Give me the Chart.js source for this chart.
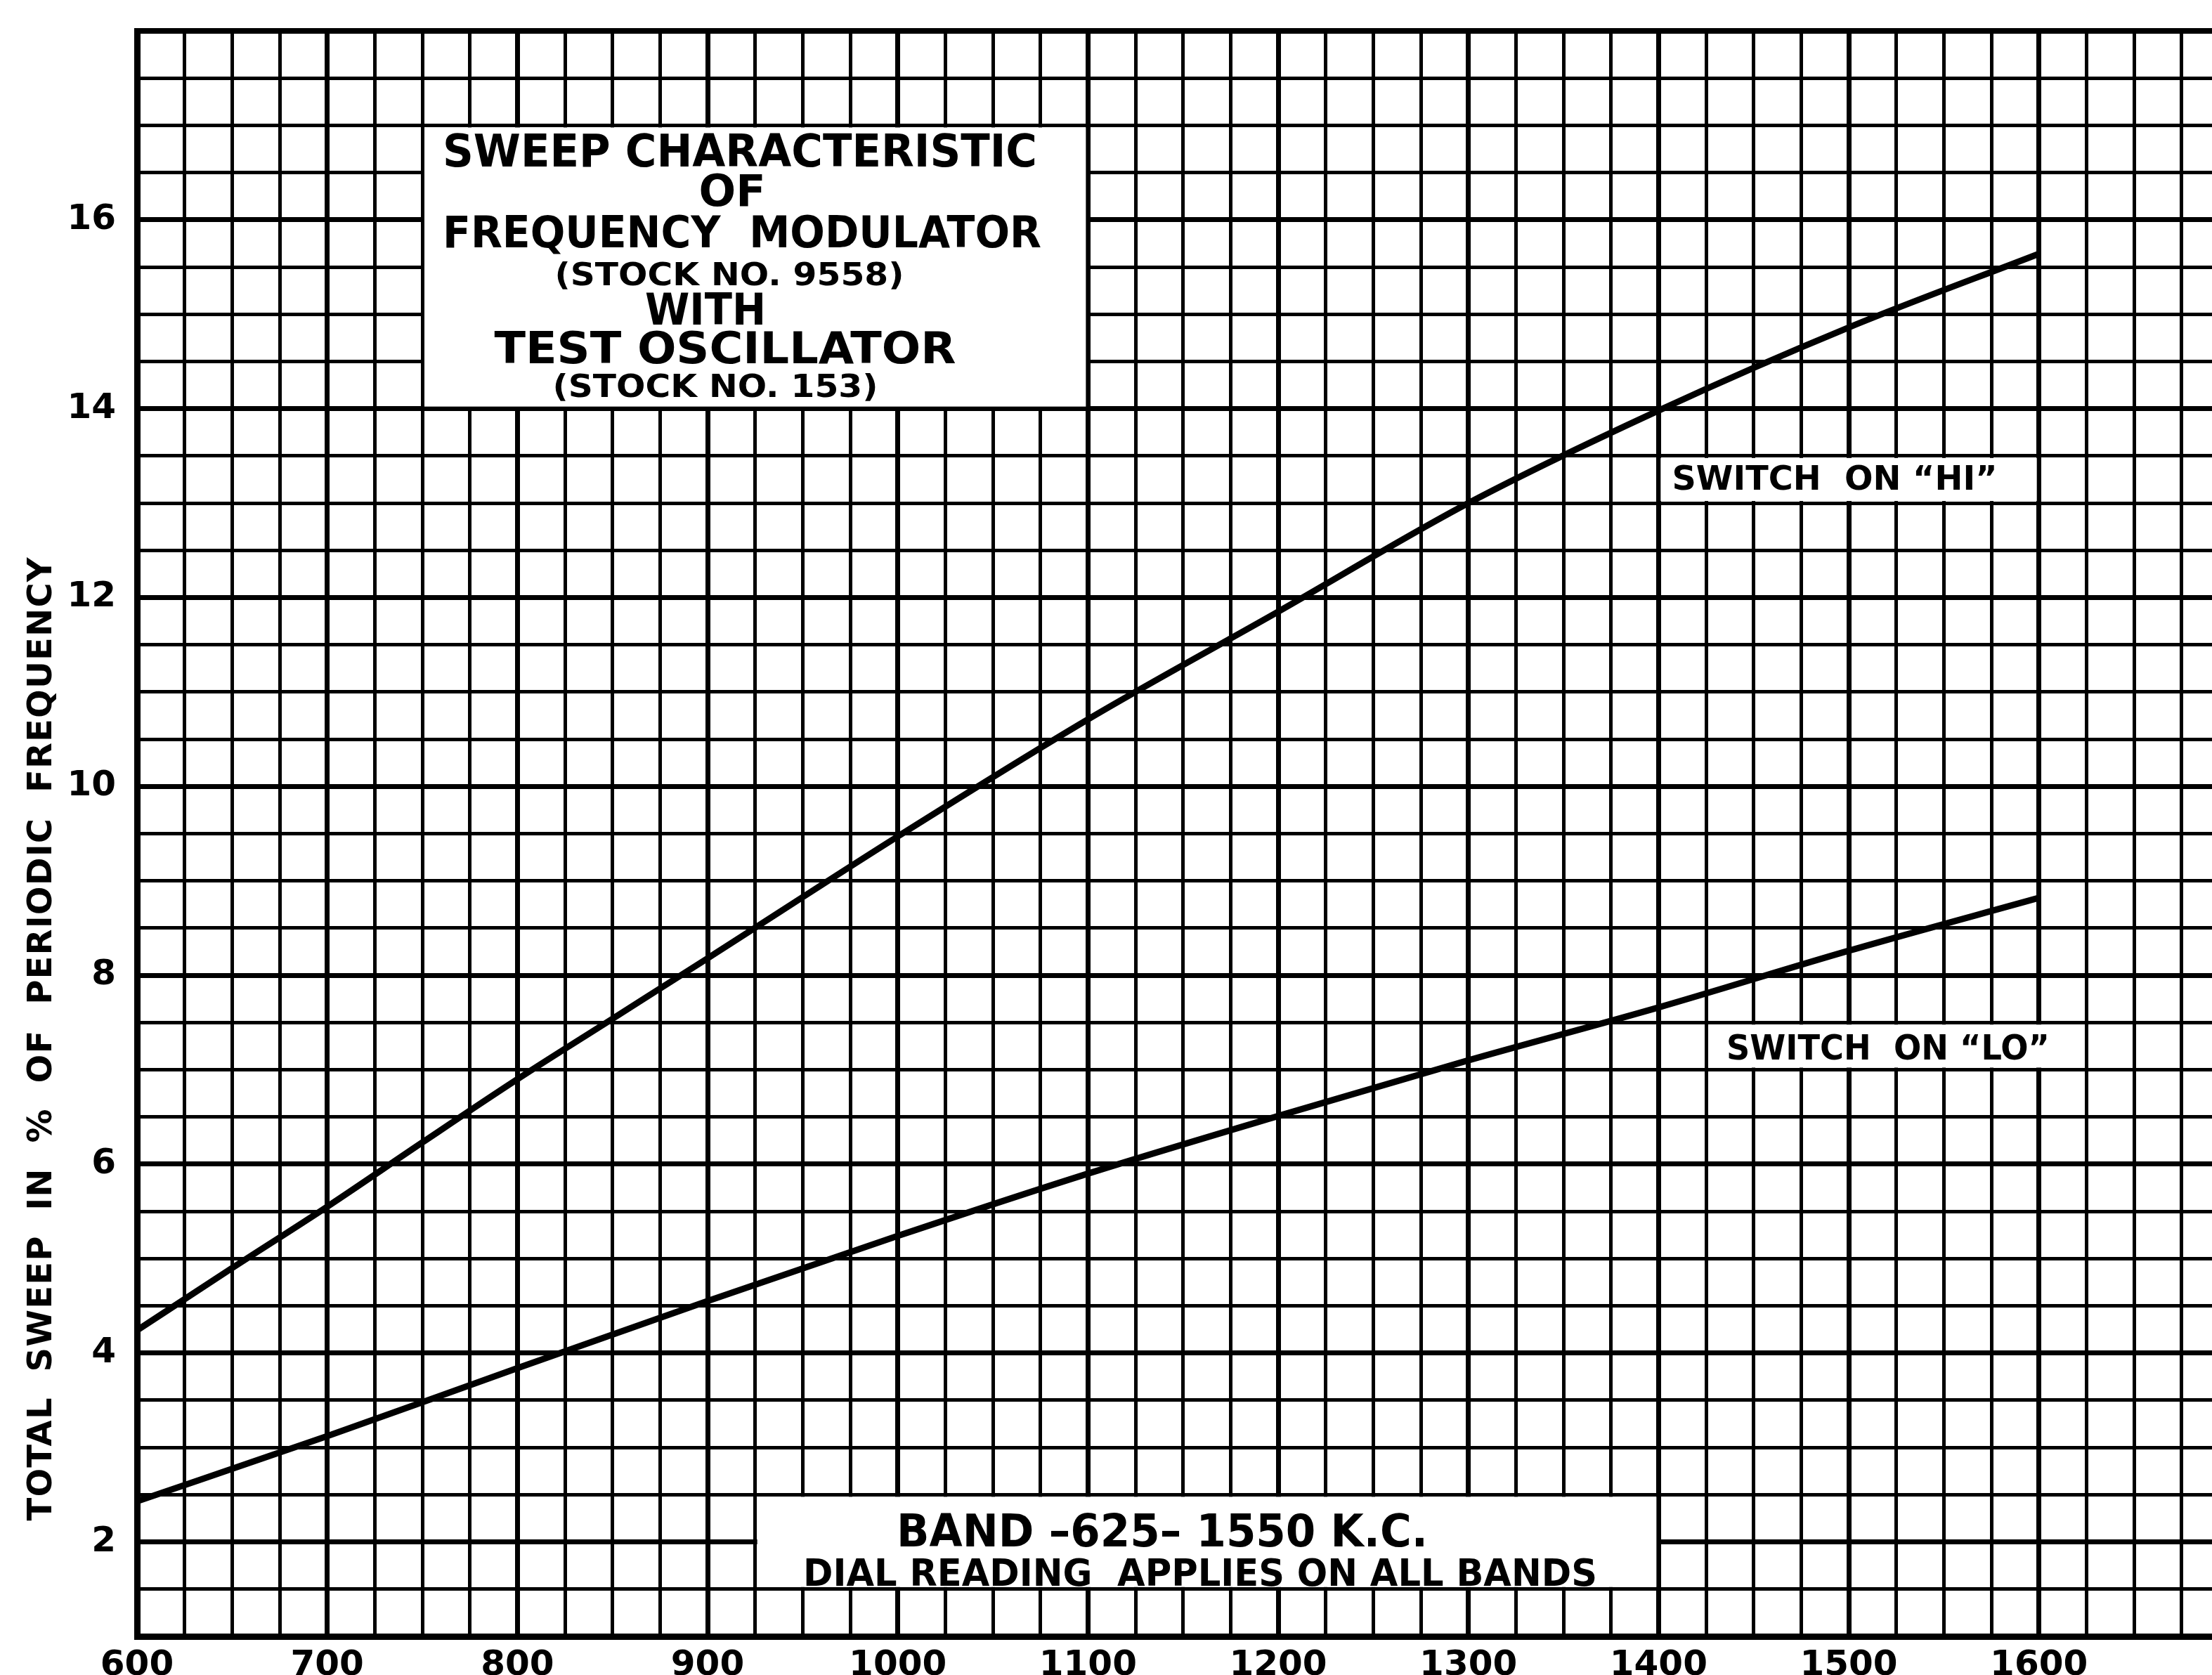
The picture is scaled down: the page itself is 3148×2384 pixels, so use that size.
<!DOCTYPE html>
<html lang="en">
<head>
    <meta charset="UTF-8">
    <title>Sweep Characteristic of Frequency Modulator</title>
    <script src="https://cdn.jsdelivr.net/npm/chart.js@4.4.0/dist/chart.umd.min.js"></script>
    <style>
        body { margin: 0; background: #fff; }
        canvas { display: block; background: #fff; }
    </style>
</head>
<body>
    <canvas id="sweepChart" width="3148" height="2384"></canvas>

    <script>
        // dial reading (kc) and total sweep (%)
        var hiDial  = [600, 650, 700, 750, 800, 850, 900, 1000, 1100, 1200, 1300, 1400, 1500, 1600];
        var hiSweep = [4.24, 4.9, 5.55, 6.23, 6.9, 7.54, 8.18, 9.47, 10.71, 11.85, 13.0, 13.98, 14.86, 15.64];
        var loDial  = [600, 700, 800, 900, 1000, 1100, 1200, 1300, 1400, 1500, 1600];
        var loSweep = [2.43, 3.12, 3.84, 4.55, 5.24, 5.9, 6.51, 7.1, 7.66, 8.26, 8.82];
        var xLabelTicks = [600, 700, 800, 900, 1000, 1100, 1200, 1300, 1400, 1500, 1600];
        var yLabelTicks = [2, 4, 6, 8, 10, 12, 14, 16];

        var FONT = "'DejaVu Sans', 'Liberation Sans', sans-serif";
        var INK = '#000';

        // white panels on the graph paper (in axis units)
        var panels = [
            { x0: 750, x1: 1100, y0: 14, y1: 17 },
            { x0: 1400, x1: 1600, y0: 13, y1: 13.5 },
            { x0: 1425, x1: 1625, y0: 7, y1: 7.5 },
            { x0: 925, x1: 1400, y0: 1.5, y1: 2.5 }
        ];

        // lettering: centre x, centre y, width, cap height (canvas px)
        var notes = [
            { t: 'SWEEP CHARACTERISTIC', x: 1053, y: 213, w: 846, cap: 47 },
            { t: 'OF', x: 1042, y: 270, w: 95, cap: 45 },
            { t: 'FREQUENCY  MODULATOR', x: 1056, y: 329, w: 852, cap: 45 },
            { t: '(STOCK NO. 9558)', x: 1038, y: 389, w: 497, cap: 33 },
            { t: 'WITH', x: 1004, y: 439, w: 172, cap: 45 },
            { t: 'TEST OSCILLATOR', x: 1032, y: 494, w: 657, cap: 45 },
            { t: '(STOCK NO. 153)', x: 1018, y: 548, w: 463, cap: 33 },
            { t: 'SWITCH  ON \u201CHI\u201D', x: 2611, y: 679, w: 463, cap: 35 },
            { t: 'SWITCH  ON \u201CLO\u201D', x: 2687, y: 1490, w: 460, cap: 36 },
            { t: 'BAND \u2013625\u2013 1550 K.C.', x: 1654, y: 2177, w: 756, cap: 47 },
            { t: 'DIAL READING  APPLIES ON ALL BANDS', x: 1708, y: 2237, w: 1130, cap: 39 }
        ];
        var yTitle = { t: 'TOTAL  SWEEP  IN  %  OF  PERIODIC  FREQUENCY', x: 55, y: 1479, w: 1371, cap: 35 };

        function toPoints(xs, ys) {
            return xs.map(function (x, i) { return { x: x, y: ys[i] }; });
        }

        function fitText(ctx, n, rotate, spaced) {
            var size = n.cap / 0.73;
            ctx.save();
            ctx.font = 'bold ' + size + 'px ' + FONT;
            ctx.fillStyle = INK;
            ctx.textBaseline = 'alphabetic';
            ctx.translate(n.x, n.y);
            if (rotate) ctx.rotate(-Math.PI / 2);
            var natural = ctx.measureText(n.t).width;
            if (spaced && n.w > natural) {
                var gap = (n.w - natural) / (n.t.length - 1);
                ctx.letterSpacing = gap + 'px';
                ctx.textAlign = 'left';
                ctx.fillText(n.t, -n.w / 2, n.cap / 2);
            } else {
                ctx.scale(n.w / natural, 1);
                ctx.textAlign = 'center';
                ctx.fillText(n.t, 0, n.cap / 2);
            }
            ctx.restore();
        }

        var paperPlugin = {
            id: 'paper',
            beforeDatasetsDraw: function (chart) {
                var ctx = chart.ctx, xs = chart.scales.x, ys = chart.scales.y;
                ctx.save();
                ctx.fillStyle = '#fff';
                panels.forEach(function (p) {
                    var l = xs.getPixelForValue(p.x0) + 3, r = xs.getPixelForValue(p.x1) - 3;
                    var t = ys.getPixelForValue(p.y1) + 3, b = ys.getPixelForValue(p.y0) - 3;
                    ctx.fillRect(l, t, r - l, b - t);
                });
                ctx.restore();
            },
            afterDraw: function (chart) {
                var ctx = chart.ctx;
                notes.forEach(function (n) { fitText(ctx, n, false, false); });
                fitText(ctx, yTitle, true, true);
            }
        };

        function noPad(scale) {
            scale.paddingTop = 0;
            scale.paddingBottom = 0;
            scale.paddingLeft = 0;
            scale.paddingRight = 0;
        }

        var ctx = document.getElementById('sweepChart').getContext('2d');
        var sweepChart = new Chart(ctx, {
            type: 'line',
            data: {
                datasets: [{
                    label: 'Switch on HI',
                    data: toPoints(hiDial, hiSweep),
                    borderColor: INK,
                    borderWidth: 9,
                    pointRadius: 0,
                    cubicInterpolationMode: 'monotone',
                    fill: false
                }, {
                    label: 'Switch on LO',
                    data: toPoints(loDial, loSweep),
                    borderColor: INK,
                    borderWidth: 9,
                    pointRadius: 0,
                    cubicInterpolationMode: 'monotone',
                    fill: false
                }]
            },
            options: {
                responsive: false,
                devicePixelRatio: 1,
                animation: false,
                layout: { padding: { top: 44, right: 0, bottom: 0, left: 0 } },
                plugins: {
                    legend: { display: false },
                    tooltip: { enabled: false },
                    title: { display: false }
                },
                scales: {
                    x: {
                        type: 'linear',
                        min: 600,
                        max: 1691,
                        afterFit: function (scale) { scale.height = 55; noPad(scale); },
                        border: { display: true, color: INK, width: 9 },
                        grid: {
                            color: INK,
                            drawTicks: false,
                            lineWidth: function (c) { return c.tick.value % 100 === 0 ? 7 : 5; }
                        },
                        ticks: {
                            stepSize: 25,
                            includeBounds: false,
                            autoSkip: false,
                            maxRotation: 0,
                            padding: 12,
                            color: INK,
                            font: { family: FONT, size: 50, weight: 'bold' },
                            callback: function (v) { return xLabelTicks.indexOf(v) >= 0 ? String(v) : ''; }
                        }
                    },
                    y: {
                        type: 'linear',
                        min: 1,
                        max: 18,
                        afterFit: function (scale) { scale.width = 195; noPad(scale); },
                        border: { display: true, color: INK, width: 9 },
                        grid: {
                            color: INK,
                            drawTicks: false,
                            lineWidth: function (c) {
                                if (c.tick.value === 18) return 8;
                                return c.tick.value % 2 === 0 ? 7 : 5;
                            }
                        },
                        ticks: {
                            stepSize: 0.5,
                            autoSkip: false,
                            padding: 30,
                            color: INK,
                            font: { family: FONT, size: 50, weight: 'bold' },
                            callback: function (v) { return yLabelTicks.indexOf(v) >= 0 ? String(v) : ''; }
                        }
                    }
                }
            },
            plugins: [paperPlugin]
        });
    </script>
</body>
</html>
